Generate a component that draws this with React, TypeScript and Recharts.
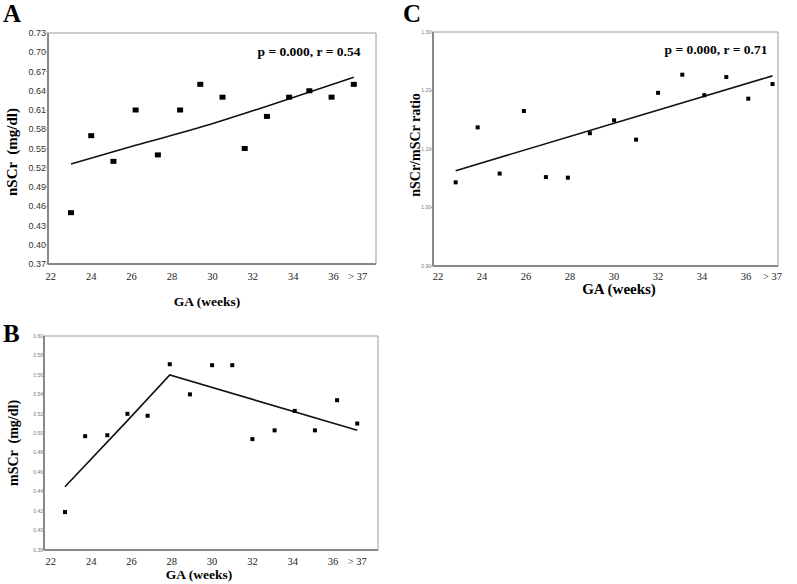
import React from 'react';
import { ScatterChart, Scatter, XAxis, YAxis, ReferenceArea } from 'recharts';

// ---------- data ----------
const xTickValues = [22, 24, 26, 28, 30, 32, 34, 36, 37.2];
const xTickLabels = ['22', '24', '26', '28', '30', '32', '34', '36', '> 37'];

// Panel A: nSCr
const gaA = [23.0, 24.0, 25.1, 26.2, 27.3, 28.4, 29.4, 30.5, 31.6, 32.7, 33.8, 34.8, 35.9, 37.0];
const nSCr = [0.45, 0.57, 0.53, 0.61, 0.54, 0.61, 0.65, 0.63, 0.55, 0.60, 0.63, 0.64, 0.63, 0.65];
const fitGaA = [23.0, 26.2, 29.4, 32.7, 37.0];
const fitA = [0.526, 0.555, 0.583, 0.616, 0.661];
const yTicksA = [0.37, 0.40, 0.43, 0.46, 0.49, 0.52, 0.55, 0.58, 0.61, 0.64, 0.67, 0.70, 0.73];

// Panel B: mSCr
const gaB = [22.7, 23.7, 24.8, 25.8, 26.8, 27.9, 28.9, 30.0, 31.0, 32.0, 33.1, 34.1, 35.1, 36.2, 37.2];
const mSCr = [0.419, 0.497, 0.498, 0.520, 0.518, 0.571, 0.540, 0.570, 0.570, 0.494, 0.503, 0.523, 0.503, 0.534, 0.510];
const fitGaB = [22.7, 25.8, 27.9, 37.2];
const fitB = [0.445, 0.513, 0.560, 0.503];
const yTicksB = [0.38, 0.40, 0.42, 0.44, 0.46, 0.48, 0.50, 0.52, 0.54, 0.56, 0.58, 0.60];

// Panel C: nSCr/mSCr ratio
const gaC = [22.8, 23.8, 24.8, 25.9, 26.9, 27.9, 28.9, 30.0, 31.0, 32.0, 33.1, 34.1, 35.1, 36.1, 37.2];
const ratio = [1.043, 1.137, 1.058, 1.165, 1.052, 1.051, 1.127, 1.149, 1.116, 1.196, 1.227, 1.192, 1.223, 1.186, 1.211];
const fitGaC = [22.8, 37.2];
const fitC = [1.063, 1.225];
const yTicksC = [0.90, 1.00, 1.10, 1.20, 1.30];

const zip = (xs: number[], ys: number[]) => xs.map((x, i) => ({ x, y: ys[i] }));

const SERIF = "Liberation Serif";
const SANS = "Liberation Sans";

type PanelProps = {
  left: number; top: number; width: number; height: number;
  margin: { top: number; right: number; left: number; bottom: number };
  yWidth: number; xHeight: number;
  xDomain: [number, number]; yDomain: [number, number];
  yTicks: number[];
  points: { x: number; y: number }[];
  fit: { x: number; y: number }[];
  markW: number; markH: number;
  yFont: number; yFill: string; yTickSize: number;
  xTickMargin: number; xFont: number;
  curve: 'linear' | 'monotoneX';
};

function XTick(props: any) {
  const { x, y, payload, fontSize } = props;
  const i = xTickValues.indexOf(payload.value);
  const label = i >= 0 ? xTickLabels[i] : '';
  return (
    <text x={x} y={y} dy="0.8em" textAnchor="middle" fontFamily={SERIF} fontSize={fontSize} fill="#222">
      {label}
    </text>
  );
}

function YTick(props: any) {
  const { x, y, payload, fontSize, fill } = props;
  return (
    <text x={x} y={y} dy="0.35em" textAnchor="end" fontFamily={SANS} fontSize={fontSize} fill={fill}>
      {Number(payload.value).toFixed(2)}
    </text>
  );
}

function Panel(p: PanelProps) {
  return (
    <div style={{ position: 'absolute', left: p.left, top: p.top }}>
      <ScatterChart width={p.width} height={p.height} margin={p.margin}>
        <ReferenceArea
          x1={p.xDomain[0]} x2={p.xDomain[1]} y1={p.yDomain[0]} y2={p.yDomain[1]}
          fill="none" stroke="#9a9a9a" strokeWidth={1} ifOverflow="visible"
        />
        <XAxis
          type="number" dataKey="x" domain={p.xDomain} allowDataOverflow
          ticks={xTickValues} interval={0}
          height={p.xHeight} tickLine={false} tickSize={0} tickMargin={p.xTickMargin}
          axisLine={{ stroke: '#888', strokeWidth: 2 }}
          tick={(tp: any) => <XTick {...tp} fontSize={p.xFont} />}
        />
        <YAxis
          type="number" dataKey="y" domain={p.yDomain} allowDataOverflow
          ticks={p.yTicks} interval={0}
          width={p.yWidth} tickSize={p.yTickSize} tickMargin={0}
          axisLine={{ stroke: '#888', strokeWidth: 2 }} tickLine={{ stroke: '#999' }}
          tick={(tp: any) => <YTick {...tp} fontSize={p.yFont} fill={p.yFill} />}
        />
        <Scatter
          data={p.fit} isAnimationActive={false}
          line={{ stroke: '#111', strokeWidth: 1.6 }} lineJointType={p.curve}
          shape={() => <g />}
        />
        <Scatter
          data={p.points} isAnimationActive={false}
          shape={(s: any) => (
            <rect x={s.cx - p.markW / 2} y={s.cy - p.markH / 2} width={p.markW} height={p.markH} fill="#000" />
          )}
        />
      </ScatterChart>
    </div>
  );
}

export default function App() {
  return (
    <div style={{ position: 'absolute', left: 0, top: 0, width: 797, height: 584, background: '#fff', overflow: 'hidden' }}>
      <Panel
        left={0} top={0} width={400} height={290}
        margin={{ top: 33, right: 24, left: 0, bottom: 0 }}
        yWidth={48} xHeight={26}
        xDomain={[21.86, 38.1]} yDomain={[0.37, 0.73]} yTicks={yTicksA}
        points={zip(gaA, nSCr)} fit={zip(fitGaA, fitA)}
        markW={6} markH={5}
        yFont={9} yFill="#333" yTickSize={2}
        xTickMargin={8} xFont={10.5} curve="monotoneX"
      />
      <Panel
        left={0} top={290} width={400} height={294}
        margin={{ top: 46, right: 22, left: 0, bottom: 0 }}
        yWidth={44} xHeight={34}
        xDomain={[21.66, 38.23]} yDomain={[0.38, 0.60]} yTicks={yTicksB}
        points={zip(gaB, mSCr)} fit={zip(fitGaB, fitB)}
        markW={4} markH={4}
        yFont={5} yFill="#777" yTickSize={1}
        xTickMargin={7} xFont={10.5} curve="linear"
      />
      <Panel
        left={400} top={0} width={397} height={290}
        margin={{ top: 32, right: 19, left: 0, bottom: 0 }}
        yWidth={33} xHeight={24}
        xDomain={[21.77, 37.45]} yDomain={[0.90, 1.30]} yTicks={yTicksC}
        points={zip(gaC, ratio)} fit={zip(fitGaC, fitC)}
        markW={4} markH={4}
        yFont={5} yFill="#777" yTickSize={2}
        xTickMargin={6} xFont={10.5} curve="linear"
      />
      <svg width={797} height={584} style={{ position: 'absolute', left: 0, top: 0, pointerEvents: 'none' }}>
        <g fontFamily={SERIF} fontWeight="bold" fill="#000">
          <text x={3} y={22} fontSize={25}>A</text>
          <text x={3} y={342} fontSize={25}>B</text>
          <text x={403} y={22} fontSize={25}>C</text>

          <text x={309} y={56} fontSize={13.5} textAnchor="middle">p = 0.000, r = 0.54</text>
          <text x={716} y={54} fontSize={13.5} textAnchor="middle">p = 0.000, r = 0.71</text>

          <text x={207} y={306} fontSize={13.5} textAnchor="middle">GA (weeks)</text>
          <text x={199} y={579} fontSize={13.5} textAnchor="middle">GA (weeks)</text>
          <text x={619} y={294} fontSize={15} textAnchor="middle">GA (weeks)</text>

          <text x={0} y={0} fontSize={15} textAnchor="middle" transform="translate(16.5,152) rotate(-90)" style={{ whiteSpace: 'pre' }}>{'nSCr  (mg/dl)'}</text>
          <text x={0} y={0} fontSize={14} textAnchor="middle" transform="translate(18,443) rotate(-90)" style={{ whiteSpace: 'pre' }}>{'mSCr  (mg/dl)'}</text>
          <text x={0} y={0} fontSize={14} textAnchor="middle" transform="translate(420,145) rotate(-90)">nSCr/mSCr ratio</text>
        </g>
      </svg>
    </div>
  );
}
